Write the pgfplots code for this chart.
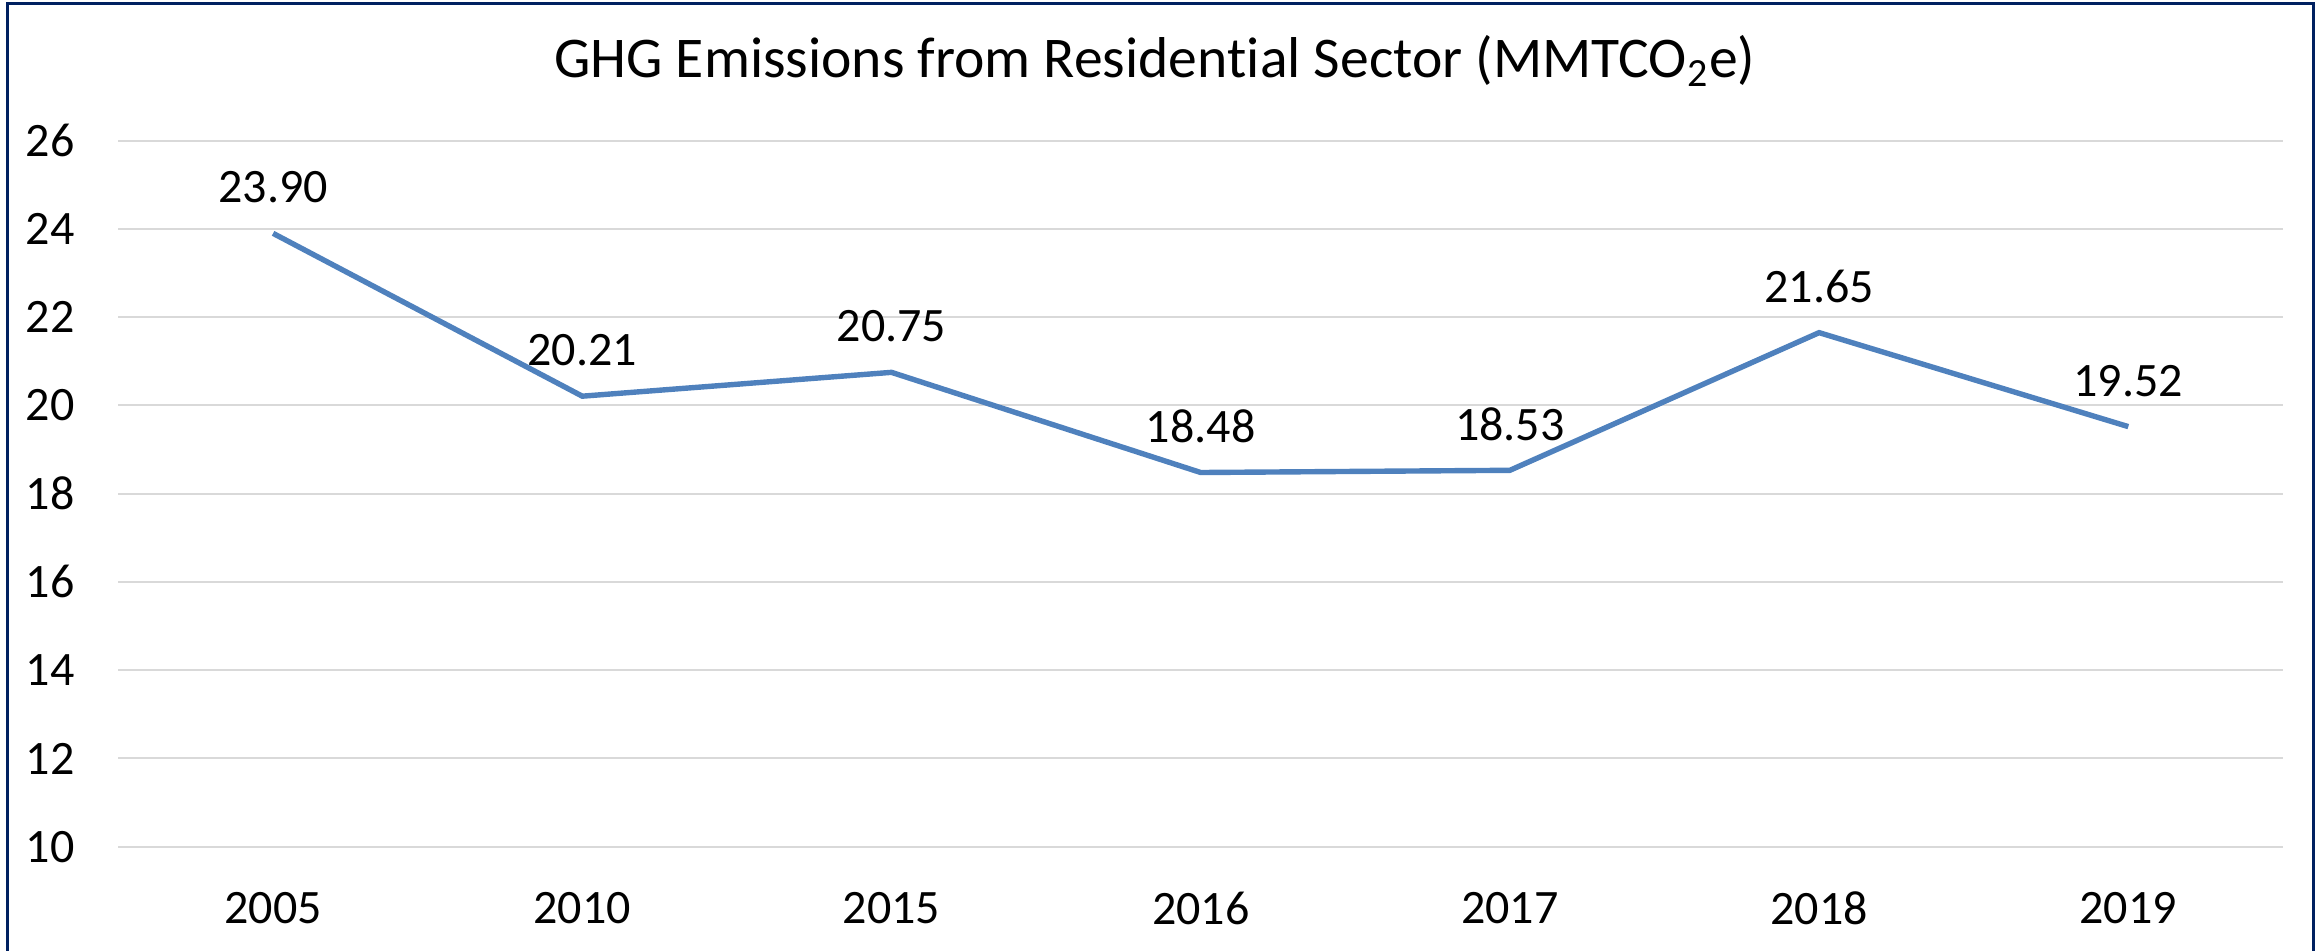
\documentclass[border=0pt]{standalone}
\usepackage{pgfplots}
\pgfplotsset{compat=1.18}
\usepackage{pgfplotstable}
\usepackage{fontspec}
\setmainfont[Ligatures=NoCommon, RawFeature={-liga;-clig;-calt;-dlig}]{Carlito}
\definecolor{linecol}{RGB}{79,129,189}
\definecolor{gridcol}{RGB}{217,217,217}
\definecolor{framecol}{RGB}{0,32,96}
\pgfplotstableread{
x y lab
0 23.90 23.90
1 20.21 20.21
2 20.75 20.75
3 18.48 18.48
4 18.53 18.53
5 21.65 21.65
6 19.52 19.52
}\ghg
\begin{document}
\begin{tikzpicture}
\useasboundingbox (-29.625pt,-26.075pt) rectangle (551.125pt,211.675pt);
\draw[framecol, line width=0.75pt] (-27.625pt,-30pt) -- (-27.625pt,210.85pt) -- (548.625pt,210.85pt) -- (548.625pt,-30pt);
\begin{axis}[
  at={(0,0)}, anchor=south west,
  scale only axis,
  width=541.1pt, height=176.5pt,
  xmin=-0.5, xmax=6.5,
  ymin=10, ymax=26,
  ytick={10,12,...,26},
  xtick=data,
  xticklabels={2005,2010,2015,2016,2017,2018,2019},
  ymajorgrids,
  major grid style={gridcol, line width=0.5pt},
  axis line style={draw=none},
  major tick length=0pt,
  tick style={draw=none},
  ticklabel style={font=\fontsize{12}{14}\selectfont},
  /pgf/number format/assume math mode=true,
  yticklabel style={xshift=-7.5pt},
  xticklabel style={yshift=-7.8pt},
  clip=false,
]
\addplot[linecol, line width=1.35pt, mark=none,
  nodes near coords, point meta=explicit symbolic,
  nodes near coords style={anchor=center, yshift=11.5pt, text=black, font=\fontsize{12}{14}\selectfont}]
  table[x=x, y=y, meta=lab] {\ghg};
\end{axis}
\node[anchor=base, font=\fontsize{14.4}{16}\selectfont] at (259.1pt,192.2pt) {GHG Emissions from Residen\kern0pt tial Sector (MMTCO\textsubscript{2}e)};
\end{tikzpicture}
\end{document}
